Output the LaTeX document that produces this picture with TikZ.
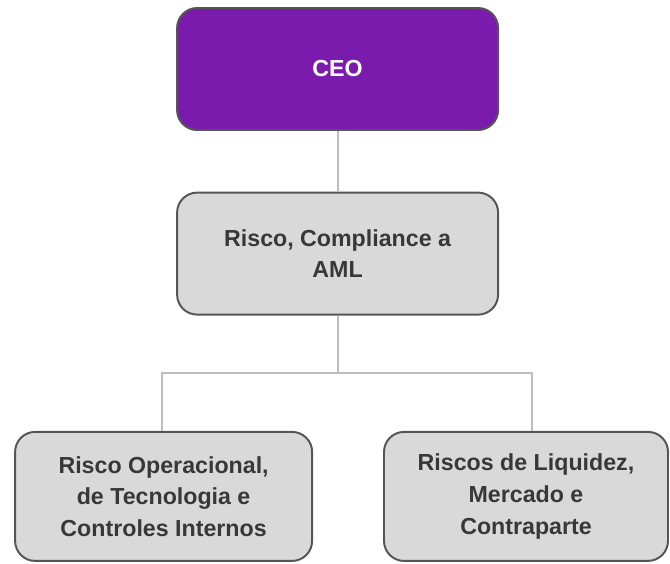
\documentclass[tikz,border=0pt]{standalone}
\usepackage{fontspec}
\setmainfont{Liberation Sans}

\definecolor{ceopurple}{HTML}{7B1BAD}
\definecolor{boxgrey}{HTML}{D9D9D9}
\definecolor{boxline}{HTML}{555555}
\definecolor{linkgrey}{HTML}{BDBDBD}

\begin{document}
\begin{tikzpicture}[
    unit/.style={draw=boxline, line width=1.4pt, rounded corners=0.5cm,
      fill=boxgrey, text=black!78, align=center, font=\bfseries\fontsize{16.5}{22.5}\selectfont,
      minimum height=3.05cm, minimum width=8.025cm, inner sep=0pt},
    ceo/.style={unit, fill=ceopurple, text=white},
    link/.style={draw=linkgrey, line width=1.4pt}
  ]
  \useasboundingbox (0,0) rectangle (16.75,-14.075);

  \node[ceo]  (ceo)  at (8.44,-1.725) {CEO};
  \node[unit] (risk) at (8.44,-6.34) {Risco, Compliance a\\AML};
  % the two areas below
  \node[unit, minimum width=7.425cm, minimum height=3.225cm] (oper) at (4.09,-12.41)
    {Risco Operacional,\\de Tecnologia e\\Controles Internos};
  \node[unit, minimum width=7.1cm, minimum height=3.225cm] (liq) at (13.15,-12.41)
    {Riscos de Liquidez,\\Mercado e\\Contraparte};

  \coordinate (fork) at (8.44,-9.325);
  \draw[link] (ceo) -- (risk);
  \draw[link] (risk) -- (fork);
  \draw[link] ([xshift=-0.05cm]oper.north) |- (fork) -| ([xshift=0.15cm]liq.north);
\end{tikzpicture}
\end{document}
